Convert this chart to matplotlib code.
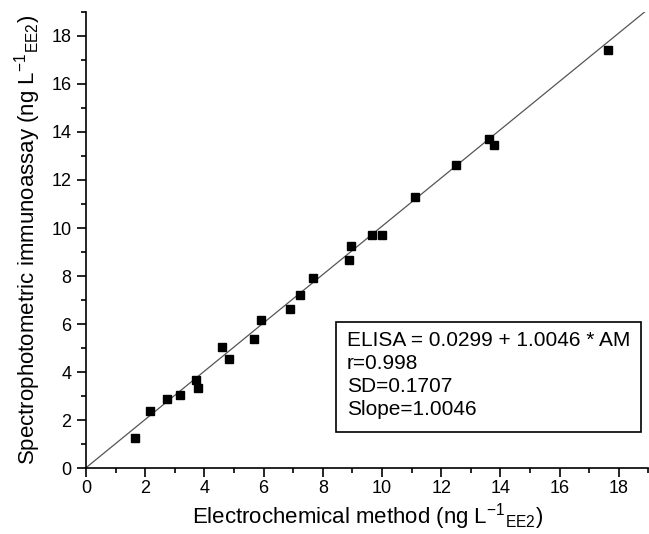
'''
Electrochemical method vs spectrophotometric immunoassay, EE2 in ng/L
'''
import matplotlib
matplotlib.use('Agg')
import matplotlib.pyplot as plt
from matplotlib.patches import Rectangle
from matplotlib.ticker import MultipleLocator

plt.rcParams['font.family'] = ['Liberation Sans', 'DejaVu Sans']
plt.rcParams['mathtext.fontset'] = 'custom'
plt.rcParams['mathtext.rm'] = 'Liberation Sans'
plt.rcParams['mathtext.default'] = 'regular'

# values
electrochemical = [1.66, 2.16, 2.75, 3.18, 3.73, 3.78, 4.60, 4.82, 5.67, 5.91, 6.88,
                   7.23, 7.67, 8.89, 8.94, 9.66, 9.99, 11.11, 12.49, 13.60, 13.79, 17.65]
immunoassay = [1.26, 2.39, 2.88, 3.04, 3.67, 3.33, 5.05, 4.56, 5.37, 6.16, 6.63,
               7.20, 7.92, 8.69, 9.25, 9.72, 9.73, 11.30, 12.64, 13.69, 13.47, 17.39]
intercept = 0.0299
slope = 1.0046
box_lines = ['ELISA = 0.0299 + 1.0046 * AM', 'r=0.998', 'SD=0.1707', 'Slope=1.0046']

fig = plt.figure(figsize=(6.49, 5.34), dpi=100)
ax = fig.add_axes([0.1325, 0.1227, 0.8666, 0.8554])

fit_x = [0, 19]
fit_y = [intercept + slope * v for v in fit_x]
ax.plot(fit_x, fit_y, color='#555555', lw=0.9, zorder=2)
ax.plot(electrochemical, immunoassay, 's', color='black', ms=5.5, zorder=3)

ax.set_xlim(0, 19)
ax.set_ylim(0, 19)
ax.xaxis.set_major_locator(MultipleLocator(2))
ax.xaxis.set_minor_locator(MultipleLocator(1))
ax.yaxis.set_major_locator(MultipleLocator(2))
ax.yaxis.set_minor_locator(MultipleLocator(1))

for side in ('top', 'right'):
    ax.spines[side].set_visible(False)
for side in ('left', 'bottom'):
    ax.spines[side].set_linewidth(1.2)
ax.tick_params(which='major', direction='out', length=6.5, width=1.2, labelsize=13, pad=2)
ax.tick_params(which='minor', direction='out', length=3.6, width=1.2)
ax.tick_params(axis='y', which='major', pad=4)

ax.set_xlabel('Electrochemical method (ng L$^{-1}$$_{EE2}$)', fontsize=16, labelpad=3)
ax.set_ylabel('Spectrophotometric immunoassay (ng L$^{-1}$$_{EE2}$)', fontsize=16, labelpad=6)

ax.add_patch(Rectangle((0.4445, 0.0799), 0.9868 - 0.4445, 0.320 - 0.0799,
                       transform=ax.transAxes, fill=False, lw=1.2, ec='black',
                       clip_on=False, zorder=4))
for text, ypos in zip(box_lines, [0.2688, 0.2172, 0.1668, 0.1171]):
    ax.text(0.4636, ypos, text, transform=ax.transAxes, fontsize=15,
            ha='left', va='baseline', zorder=5)

fig.savefig('out.png', dpi=100)
